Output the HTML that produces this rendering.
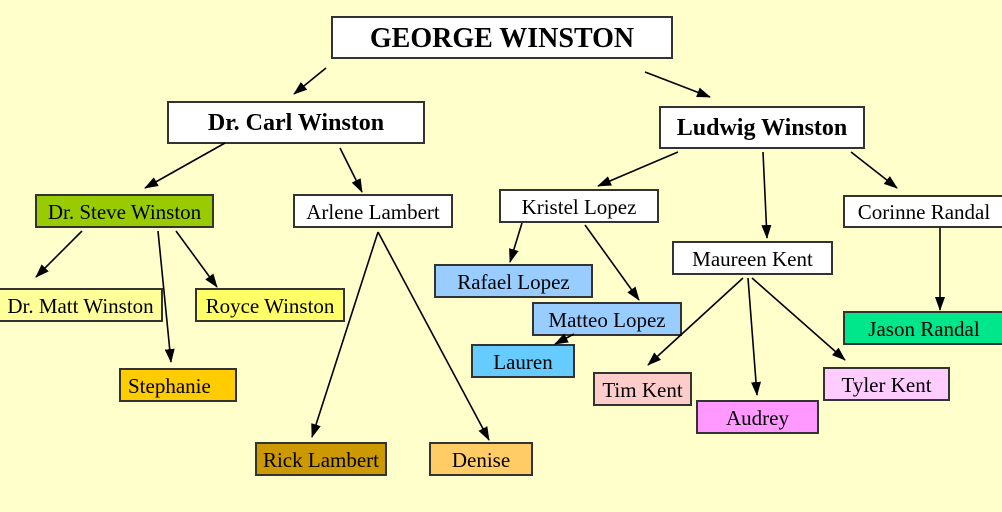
<!DOCTYPE html>
<html><head><meta charset="utf-8"><style>
body{margin:0;width:1002px;height:512px;background:#ffffcc;overflow:hidden;position:relative;font-family:"Liberation Serif",serif;}
.b{position:absolute;box-sizing:border-box;border:2px solid #333;display:flex;align-items:center;justify-content:center;font-size:21px;color:#000;white-space:nowrap;padding-top:2px;}
svg{position:absolute;left:0;top:0;}
</style></head><body>
<div class="b" style="left:331px;top:16px;width:342px;height:43px;background:#fff;font-weight:bold;font-size:28px;">GEORGE WINSTON</div>
<div class="b" style="left:167px;top:101px;width:258px;height:43px;background:#fff;font-weight:bold;font-size:24px;">Dr. Carl Winston</div>
<div class="b" style="left:659px;top:106px;width:206px;height:43px;background:#fff;font-weight:bold;font-size:24px;">Ludwig Winston</div>
<div class="b" style="left:35px;top:194px;width:179px;height:34px;background:#99cc00;">Dr. Steve Winston</div>
<div class="b" style="left:293px;top:194px;width:160px;height:34px;background:#fff;">Arlene Lambert</div>
<div class="b" style="left:499px;top:189px;width:160px;height:34px;background:#fff;">Kristel Lopez</div>
<div class="b" style="left:843px;top:195px;width:162px;height:33px;background:#fff;">Corinne Randal</div>
<div class="b" style="left:-2px;top:288px;width:165px;height:34px;background:#ffff99;">Dr. Matt Winston</div>
<div class="b" style="left:195px;top:288px;width:150px;height:34px;background:#ffff66;">Royce Winston</div>
<div class="b" style="left:119px;top:368px;width:118px;height:34px;background:#ffcc00;justify-content:flex-start;padding-left:7px;">Stephanie</div>
<div class="b" style="left:255px;top:442px;width:132px;height:34px;background:#cc9900;">Rick Lambert</div>
<div class="b" style="left:429px;top:442px;width:104px;height:34px;background:#ffcc66;">Denise</div>
<div class="b" style="left:434px;top:264px;width:159px;height:34px;background:#99ccff;">Rafael Lopez</div>
<div class="b" style="left:532px;top:302px;width:150px;height:34px;background:#99ccff;">Matteo Lopez</div>
<div class="b" style="left:471px;top:344px;width:104px;height:34px;background:#66ccff;">Lauren</div>
<div class="b" style="left:672px;top:241px;width:161px;height:34px;background:#fff;">Maureen Kent</div>
<div class="b" style="left:593px;top:372px;width:99px;height:34px;background:#ffcccc;">Tim Kent</div>
<div class="b" style="left:696px;top:400px;width:123px;height:34px;background:#ff99ff;">Audrey</div>
<div class="b" style="left:823px;top:367px;width:127px;height:34px;background:#ffccff;">Tyler Kent</div>
<div class="b" style="left:843px;top:311px;width:162px;height:34px;background:#00e68a;">Jason Randal</div>
<svg width="1002" height="512">
<defs><marker id="a" markerWidth="14" markerHeight="10" refX="13" refY="5" orient="auto" markerUnits="userSpaceOnUse"><path d="M0,0 L14,5 L0,10 z" fill="#000"/></marker></defs>
<g stroke="#000" stroke-width="1.6" marker-end="url(#a)">
<line x1="326" y1="68" x2="294" y2="94"/>
<line x1="645" y1="72" x2="710" y2="97"/>
<line x1="225" y1="143" x2="145" y2="188"/>
<line x1="340" y1="148" x2="362" y2="192"/>
<line x1="82" y1="231" x2="36" y2="277"/>
<line x1="158" y1="231" x2="171" y2="362"/>
<line x1="176" y1="231" x2="217" y2="287"/>
<line x1="378" y1="232" x2="312" y2="437"/>
<line x1="378" y1="232" x2="489" y2="440"/>
<line x1="678" y1="152" x2="598" y2="186"/>
<line x1="763" y1="152" x2="767" y2="238"/>
<line x1="851" y1="152" x2="897" y2="188"/>
<line x1="522" y1="223" x2="510" y2="262"/>
<line x1="585" y1="225" x2="639" y2="300"/>
<line x1="574" y1="334" x2="555" y2="344"/>
<line x1="743" y1="278" x2="648" y2="365"/>
<line x1="748" y1="278" x2="757" y2="395"/>
<line x1="752" y1="278" x2="845" y2="360"/>
<line x1="940" y1="228" x2="940" y2="310"/>
</g></svg>
</body></html>
